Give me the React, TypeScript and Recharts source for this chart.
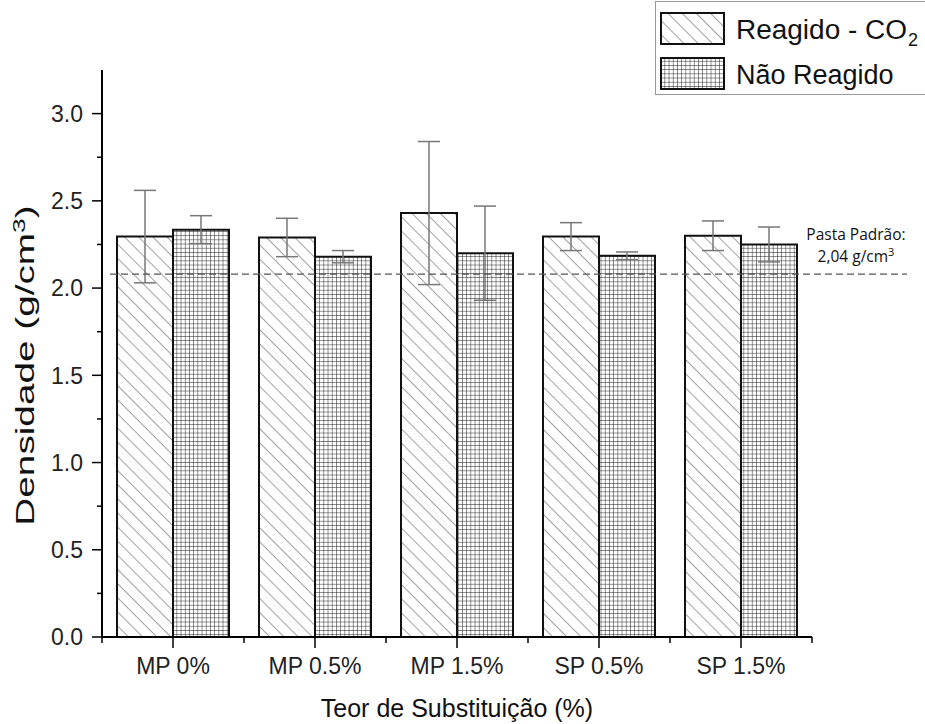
import React from 'react'
import { BarChart, Bar, XAxis, YAxis, ErrorBar, ReferenceLine } from 'recharts'

const categories = ['MP 0%', 'MP 0.5%', 'MP 1.5%', 'SP 0.5%', 'SP 1.5%']
const reagido = [2.295, 2.29, 2.43, 2.295, 2.3]
const reagidoErr = [0.265, 0.11, 0.41, 0.08, 0.085]
const naoReagido = [2.335, 2.18, 2.2, 2.185, 2.25]
const naoReagidoErr = [0.08, 0.035, 0.27, 0.022, 0.1]
const yTicks = [0, 0.25, 0.5, 0.75, 1, 1.25, 1.5, 1.75, 2, 2.25, 2.5, 2.75, 3]
const padrao = 2.08
const padraoLabel = ['Pasta Padrão:', '2,04 g/cm']

const data = categories.map((name, i) => ({
  name,
  reagido: reagido[i],
  errR: reagidoErr[i],
  nao: naoReagido[i],
  errN: naoReagidoErr[i],
}))

const W = 925
const H = 724
const M = { top: 70, right: 113, bottom: 0, left: 0 }
const Y_W = 102
const X_H = 87
const BAND = (W - Y_W - M.right) / categories.length
const FONT = '"Liberation Sans", Arial, sans-serif'

function Patterns({ prefix }: { prefix: string }) {
  return (
    <defs>
      <pattern id={prefix + 'hatch'} patternUnits="userSpaceOnUse" width={10} height={10} patternTransform="rotate(-45)">
        <rect width={10} height={10} fill="#fff" />
        <line x1={0} y1={0} x2={0} y2={10} stroke="#555" strokeWidth={1.1} />
      </pattern>
      <pattern id={prefix + 'grid'} patternUnits="userSpaceOnUse" width={4.2} height={4.2}>
        <rect width={4.2} height={4.2} fill="#fff" />
        <line x1={0} y1={0} x2={4.2} y2={0} stroke="#222" strokeWidth={1} />
        <line x1={0} y1={0} x2={0} y2={4.2} stroke="#222" strokeWidth={1} />
      </pattern>
    </defs>
  )
}

const YTick = (props: any) => {
  const { x, y, payload } = props
  const v = payload.value
  const major = Math.abs(v * 2 - Math.round(v * 2)) < 1e-6
  return (
    <g>
      <line x1={x - (major ? 10 : 5)} x2={x} y1={y} y2={y} stroke="#000" strokeWidth={1.5} />
      {major && (
        <text x={x - 19} y={y} dy="0.36em" textAnchor="end" fontSize={23} fontFamily={FONT} fill="#222">
          {v.toFixed(1)}
        </text>
      )}
    </g>
  )
}

const XTick = (props: any) => {
  const { x, y, payload, index } = props
  return (
    <g>
      <line x1={x} x2={x} y1={y} y2={y + 11} stroke="#000" strokeWidth={1.5} />
      <line x1={x - BAND / 2} x2={x - BAND / 2} y1={y} y2={y + 6} stroke="#000" strokeWidth={1.5} />
      {index === categories.length - 1 && (
        <line x1={x + BAND / 2} x2={x + BAND / 2} y1={y} y2={y + 6} stroke="#000" strokeWidth={1.5} />
      )}
      <text x={x} y={y + 37} textAnchor="middle" fontSize={23} fontFamily={FONT} fill="#222">
        {payload.value}
      </text>
    </g>
  )
}

const PadraoLine = (props: any) => {
  const x1 = props.x1 ?? props.points?.[0]?.x
  const x2 = props.x2 ?? props.points?.[1]?.x
  const y = props.y1 ?? props.points?.[0]?.y
  const f = '"Open Sans", sans-serif'
  return (
    <g>
      <line x1={x1 + 8} x2={x2 + 95} y1={y} y2={y} stroke="#555" strokeWidth={1.3} strokeDasharray="7 4" />
      <text x={x2 + 44} y={y - 34} textAnchor="middle" fontSize={15.5} fontFamily={f} fill="#111">
        {padraoLabel[0]}
      </text>
      <text x={x2 + 44} y={y - 12} textAnchor="middle" fontSize={15.5} fontFamily={f} fill="#111">
        {padraoLabel[1]}
        <tspan dy={-6} fontSize={11}>3</tspan>
      </text>
    </g>
  )
}

function LegendBox() {
  return (
    <div style={{ position: 'absolute', left: 655, top: 1, width: 280, height: 92, border: '1px solid #999', background: '#fff' }}>
      <svg width={280} height={92}>
        <Patterns prefix="lg-" />
        <rect x={5} y={11} width={63} height={31} fill="url(#lg-hatch)" stroke="#111" strokeWidth={2} />
        <text x={80} y={37} fontSize={27} fontFamily={FONT} fill="#111" textLength={171} lengthAdjust="spacingAndGlyphs">
          Reagido - CO
        </text>
        <text x={252} y={44} fontSize={18} fontFamily={FONT} fill="#111">2</text>
        <rect x={5} y={56} width={63} height={31} fill="url(#lg-grid)" stroke="#111" strokeWidth={2} />
        <text x={80} y={82} fontSize={27} fontFamily={FONT} fill="#111">
          Não Reagido
        </text>
      </svg>
    </div>
  )
}

export default function App() {
  return (
    <div style={{ position: 'absolute', left: 0, top: 0, width: W, height: H, overflow: 'hidden', background: '#fff' }}>
      <BarChart width={W} height={H} data={data} margin={M} barGap={0} barSize={56}>
        <Patterns prefix="" />
        <XAxis
          dataKey="name"
          height={X_H}
          tickSize={0}
          tickMargin={0}
          tickLine={false}
          tick={<XTick />}
          interval={0}
          axisLine={{ stroke: '#000', strokeWidth: 2 }}
          label={({ viewBox }: any) => (
            <text x={viewBox.x + viewBox.width / 2} y={viewBox.y + 80} textAnchor="middle" fontSize={25} fontFamily={FONT} fill="#111">
              Teor de Substituição (%)
            </text>
          )}
        />
        <YAxis
          width={Y_W}
          domain={[0, 3.25]}
          ticks={yTicks}
          interval={0}
          tickSize={0}
          tickMargin={0}
          tickLine={false}
          tick={<YTick />}
          axisLine={{ stroke: '#000', strokeWidth: 2 }}
          label={({ viewBox }: any) => {
            const cx = viewBox.x + 34
            const cy = viewBox.y + viewBox.height / 2 + 12
            return (
              <text x={0} y={0} transform={`translate(${cx} ${cy}) rotate(-90) scale(1.55 1)`} textAnchor="middle" fontSize={25} fontFamily={FONT} fill="#111">
                Densidade  (g/cm<tspan dy={-9} fontSize={17}>3</tspan><tspan dy={9}>)</tspan>
              </text>
            )
          }}
        />
        <Bar dataKey="reagido" fill="url(#hatch)" stroke="#111" strokeWidth={2} isAnimationActive={false}>
          <ErrorBar dataKey="errR" width={11} stroke="#777" strokeWidth={1.5} direction="y" />
        </Bar>
        <Bar dataKey="nao" fill="url(#grid)" stroke="#111" strokeWidth={2} isAnimationActive={false}>
          <ErrorBar dataKey="errN" width={11} stroke="#777" strokeWidth={1.5} direction="y" />
        </Bar>
        <ReferenceLine y={padrao} shape={<PadraoLine />} />
      </BarChart>
      <LegendBox />
    </div>
  )
}
